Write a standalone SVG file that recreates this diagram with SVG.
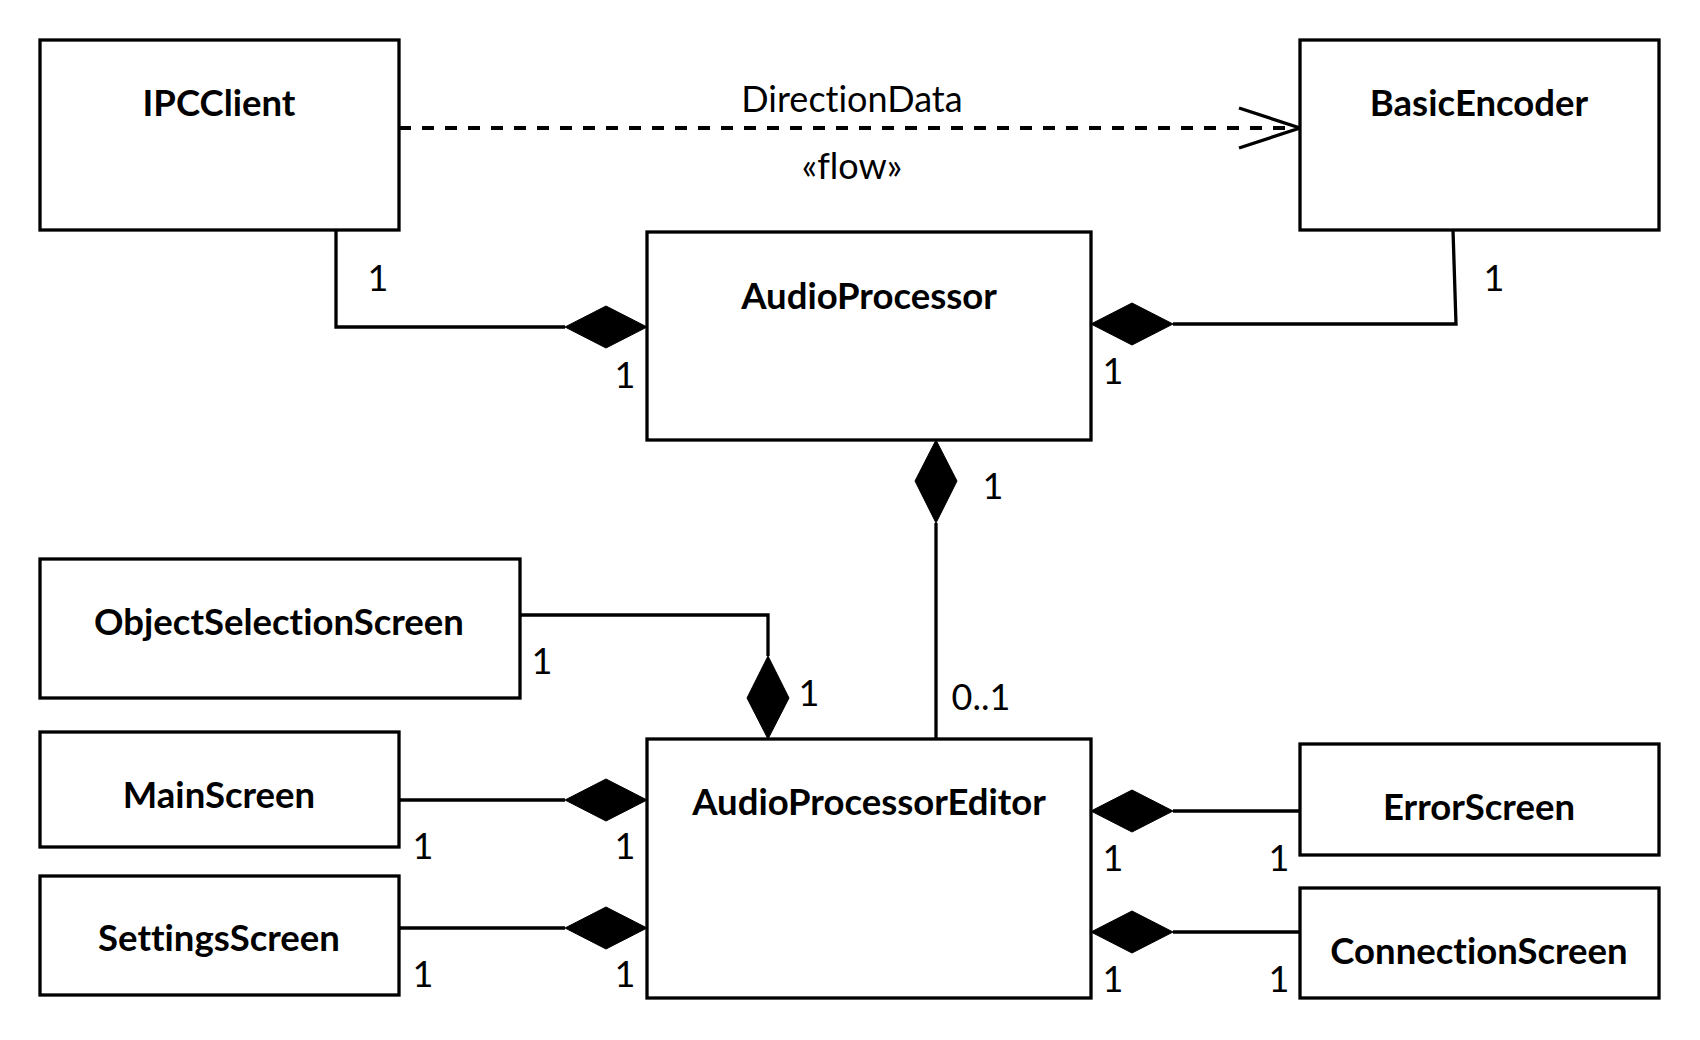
<svg xmlns="http://www.w3.org/2000/svg" width="1700" height="1040" viewBox="0 0 1700 1040">
<defs>
<style>
.box{fill:#fff;stroke:#000;stroke-width:3.3}
.name{font-family:Lato,"Liberation Sans",sans-serif;font-weight:bold;font-size:36.5px;text-anchor:middle;fill:#000;font-variant-ligatures:none}
.lbl{font-family:Lato,"Liberation Sans",sans-serif;font-size:36px;text-anchor:middle;fill:#000;font-variant-ligatures:none}
.ln{fill:none;stroke:#000;stroke-width:3.3}
.dash{fill:none;stroke:#000;stroke-width:4;stroke-dasharray:12 11}
.dia{fill:#000;stroke:#000;stroke-width:1}
</style>
</defs>
<rect width="1700" height="1040" fill="#fff"/>
<g id="connectors">
<path class="dash" d="M399 128 H1298"/>
<path class="ln" d="M1239 108 L1300 128 L1239 148"/>
<path class="ln" d="M336 230 V327 H565"/>
<polygon class="dia" points="647,327 606,306 565,327 606,348"/>
<path class="ln" d="M1453 230 L1456 324 H1173"/>
<polygon class="dia" points="1091,324 1132,303 1173,324 1132,345"/>
<path class="ln" d="M936 523 V739"/>
<polygon class="dia" points="936,440 915,481 936,523 957,481"/>
<path class="ln" d="M520 615 H768 V656"/>
<polygon class="dia" points="768,739 747,698 768,656 789,698"/>
<path class="ln" d="M399 800 H565"/>
<polygon class="dia" points="647,800 606,779 565,800 606,821"/>
<path class="ln" d="M399 928 H565"/>
<polygon class="dia" points="647,928 606,907 565,928 606,949"/>
<path class="ln" d="M1300 811 H1173"/>
<polygon class="dia" points="1091,811 1132,790 1173,811 1132,832"/>
<path class="ln" d="M1300 932 H1173"/>
<polygon class="dia" points="1091,932 1132,911 1173,932 1132,953"/>
<text class="lbl" x="852" y="112">DirectionData</text>
<text class="lbl" x="852" y="179">«flow»</text>
<text class="lbl" x="378" y="291">1</text>
<text class="lbl" x="625" y="388">1</text>
<text class="lbl" x="1494" y="291">1</text>
<text class="lbl" x="1113" y="384">1</text>
<text class="lbl" x="993" y="499">1</text>
<text class="lbl" x="981" y="710">0..1</text>
<text class="lbl" x="542" y="674">1</text>
<text class="lbl" x="809" y="706">1</text>
<text class="lbl" x="423" y="859">1</text>
<text class="lbl" x="625" y="859">1</text>
<text class="lbl" x="423" y="987">1</text>
<text class="lbl" x="625" y="987">1</text>
<text class="lbl" x="1113" y="871">1</text>
<text class="lbl" x="1279" y="871">1</text>
<text class="lbl" x="1113" y="992">1</text>
<text class="lbl" x="1279" y="992">1</text>
</g>
<g id="IPCClient"><rect class="box" x="40" y="40" width="359" height="190"/><text class="name" x="219" y="116">IPCClient</text></g>
<g id="BasicEncoder"><rect class="box" x="1300" y="40" width="359" height="190"/><text class="name" x="1479" y="116">BasicEncoder</text></g>
<g id="AudioProcessor"><rect class="box" x="647" y="232" width="444" height="208"/><text class="name" x="869" y="309">AudioProcessor</text></g>
<g id="ObjectSelectionScreen"><rect class="box" x="40" y="559" width="480" height="139"/><text class="name" x="279" y="635">ObjectSelectionScreen</text></g>
<g id="MainScreen"><rect class="box" x="40" y="732" width="359" height="115"/><text class="name" x="219" y="808">MainScreen</text></g>
<g id="SettingsScreen"><rect class="box" x="40" y="876" width="359" height="119"/><text class="name" x="219" y="951">SettingsScreen</text></g>
<g id="AudioProcessorEditor"><rect class="box" x="647" y="739" width="444" height="259"/><text class="name" x="869" y="815">AudioProcessorEditor</text></g>
<g id="ErrorScreen"><rect class="box" x="1300" y="744" width="359" height="111"/><text class="name" x="1479" y="820">ErrorScreen</text></g>
<g id="ConnectionScreen"><rect class="box" x="1300" y="888" width="359" height="110"/><text class="name" x="1479" y="964">ConnectionScreen</text></g>
</svg>
